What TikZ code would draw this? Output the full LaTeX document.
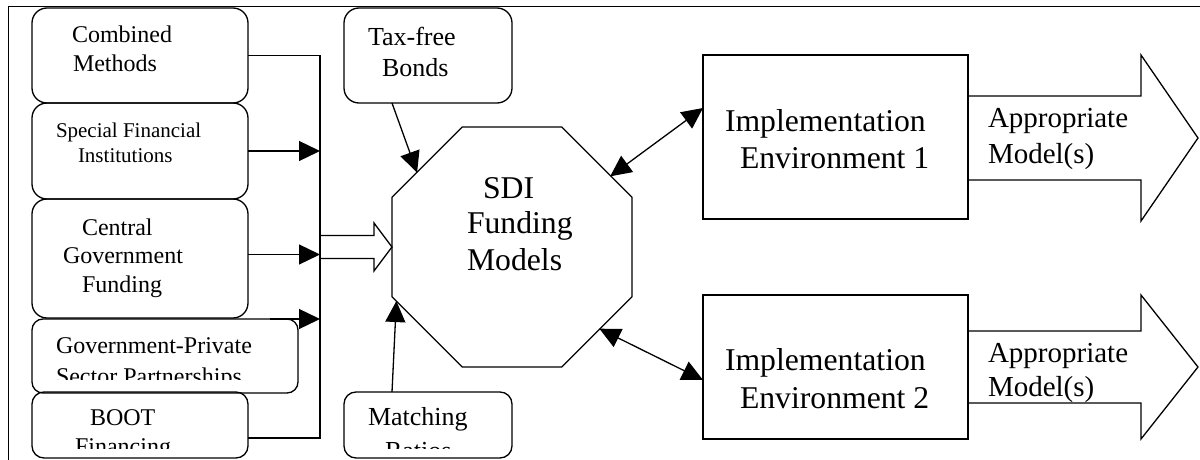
\documentclass[tikz,border=0pt]{standalone}
\usepackage{fontspec}
\setmainfont{Liberation Serif}
\usetikzlibrary{arrows.meta,shapes.geometric,calc}

\begin{document}
\begin{tikzpicture}[x=1pt,y=-1pt,
  every node/.style={inner sep=0pt,outer sep=0pt},
  box/.style={draw,rounded corners=15pt,line width=1.3pt},
  sqbox/.style={draw,line width=1.3pt},
  wire/.style={line width=1.3pt},
  link/.style={line width=1.3pt,-{Triangle[length=21pt,width=20pt]}},
  twoway/.style={line width=1.3pt,{Triangle[length=21pt,width=20pt]}-{Triangle[length=21pt,width=20pt]}},
  lbl/.style={anchor=base west},
  fa/.style={font=\fontsize{21}{25}\selectfont},
  fb/.style={font=\fontsize{24}{28}\selectfont},
  fc/.style={font=\fontsize{26}{30}\selectfont},
  fd/.style={font=\fontsize{29}{33}\selectfont},
  fe/.style={font=\fontsize{31.7}{36}\selectfont}]

\useasboundingbox (0,0) rectangle (1200,460);

% frame
\coordinate (fr) at (8,7);
\draw[line width=1pt] (fr |- 0,460) -- (fr) -- (1200,7);

% funding sources on the left
\node[box,minimum width=216pt,minimum height=95pt] (cm) at (140,55.5) {};
\node[box,minimum width=216pt,minimum height=96pt] (sf) at (140,151) {};
\node[box,minimum width=216pt,minimum height=119pt] (cg) at (140,258.5) {};
\node[box,minimum width=266pt,minimum height=74pt,rounded corners=11pt] (gp) at (165,356) {};
\node[box,minimum width=216pt,minimum height=66pt,rounded corners=12pt] (bt) at (140,425) {};

\node[lbl,fb] (cm1) at (72,43) {Combined};
\node[lbl,fb] (cm2) at (73,71) {Methods};
\node[lbl,fa] (sf1) at (56,137) {Special Financial};
\node[lbl,fa] (sf2) at (78,162) {Institutions};
\node[lbl,fb] (cg1) at (82,235) {Central};
\node[lbl,fb] (cg2) at (63,263) {Government};
\node[lbl,fb] (cg3) at (82,292) {Funding};
\node[lbl,fb] (gp1) at (56,353) {Government-Private};
\begin{scope}
  \clip (30,360) rectangle (300,379);
  \node[lbl,fb] (gp2) at (56,384) {Sector Partnerships};
\end{scope}
\node[lbl,fb] (bt1) at (90,425) {BOOT};
\begin{scope}
  \clip (30,430) rectangle (300,448);
  \node[lbl,fb] (bt2) at (75,454) {Financing};
\end{scope}

% upper and lower inputs
\node[box,minimum width=168pt,minimum height=95pt] (tf) at (428,55.5) {};
\node[lbl,fc] (tf1) at (368,46) {Tax-free};
\node[lbl,fc] (tf2) at (382,77) {Bonds};
\node[box,minimum width=168pt,minimum height=66pt,rounded corners=12pt] (mr) at (428,425) {};
\node[lbl,fc] (mr1) at (368,425) {Matching};
\begin{scope}
  \clip (340,430) rectangle (515,448);
  \node[lbl,fc] (mr2) at (385,459) {Ratios};
\end{scope}

% central octagon
\node[draw,line width=1.3pt,regular polygon,regular polygon sides=8,
      minimum size=259.8pt] (oct) at (512,247) {};
\node[lbl,fe] (oc1) at (483,198) {SDI};
\node[lbl,fe] (oc2) at (467,233) {Funding};
\node[lbl,fe] (oc3) at (467,270) {Models};

% implementation environments
\node[sqbox,minimum width=265pt,minimum height=164pt] (ie1) at (835.5,137) {};
\node[lbl,fe] (ie1a) at (725,131) {Implementation};
\node[lbl,fe] (ie1b) at (740,168) {Environment 1};
\node[sqbox,minimum width=265pt,minimum height=144pt] (ie2) at (835.5,367) {};
\node[lbl,fe] (ie2a) at (725,370) {Implementation};
\node[lbl,fe] (ie2b) at (740,408) {Environment 2};

% collecting bus on the left
\coordinate (bus) at (320,55);
\draw[wire] (cm.east) -- (cm.east -| bus) -- (bus |- 0,438) -- ($(bt.east)+(0,13)$);
\draw[link] (sf.east) -- (sf.east -| bus);
\draw[link] ($(cg.east)+(0,-4)$) -- ($(cg.east -| bus)+(0,-4)$);
\draw[link] ($(gp.north east)+(-28,0)$) -- (gp.north east -| bus);

% hollow arrow from the bus to the octagon
\coordinate (hb) at (bus |- oct.180);
\draw[wire,line join=miter] ($(hb)+(0,-11.5)$) -- ++(54,0) -- ++(0,-12.5)
  -- (oct.180) -- ++(-18,24) -- ++(0,-12.5) -- ++(-54,0);

% inputs into the octagon
\draw[link] ($(tf.south west)+(48,0)$) -- ($(oct.157.5)!0.343!(oct.112.5)$);
\draw[link] ($(mr.north west)+(48,0)$) -- ($(oct.-157.5)!0.05!(oct.-112.5)$);

% exchanges with the environments
\draw[twoway] ($(oct.67.5)!0.686!(oct.22.5)$) -- ($(ie1.west)+(0,-29)$);
\draw[twoway] ($(oct.-22.5)!0.47!(oct.-67.5)$) -- ($(ie2.west)+(0,13)$);

% outcome arrows
\coordinate (a1) at ($(ie1.east)+(0,1)$);
\draw[wire,line join=miter] ($(a1)+(0,-42)$) -- ++(173,0) -- ++(0,-41)
  -- ($(a1)+(230,0)$) -- ++(-57,83) -- ++(0,-41) -- ++(-173,0);
\node[lbl,fd] (ap1) at (988,128) {Appropriate};
\node[lbl,fd] (md1) at (988,163) {Model(s)};

\coordinate (a2) at (ie2.east);
\draw[wire,line join=miter] ($(a2)+(0,-36)$) -- ++(173,0) -- ++(0,-36)
  -- ($(a2)+(230,0)$) -- ++(-57,72) -- ++(0,-36) -- ++(-173,0);
\node[lbl,fd] (ap2) at (988,362) {Appropriate};
\node[lbl,fd] (md2) at (988,396) {Model(s)};
\end{tikzpicture}
\end{document}
